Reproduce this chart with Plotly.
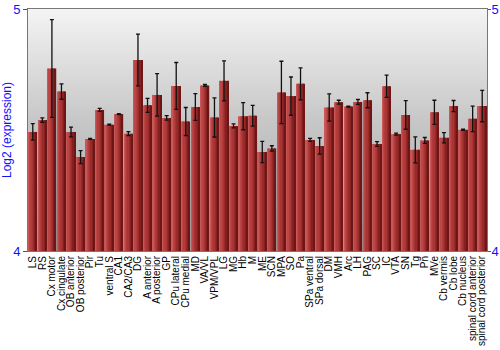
import base64
import plotly.graph_objects as go

categories = ["LS", "RS", "Cx motor", "Cx cingulate", "OB anterior", "OB posterior", "Pir", "Tu",
              "ventral S", "CA1", "CA2/CA3", "DG", "A anterior", "A posterior", "GP", "CPu lateral",
              "CPu medial", "MD", "VA/VL", "VPM/VPL", "LG", "MG", "Hb", "M", "ME", "SCN", "MPA", "SO",
              "Pa", "SPa ventral", "SPa dorsal", "DM", "VMH", "Arc", "LH", "PAG", "SC", "IC", "VTA",
              "SN", "Tg", "Pn", "MVe", "Cb vermis", "Cb lobe", "Cb nucleus", "spinal cord anterior",
              "spinal cord posterior"]

values = [4.492, 4.541, 4.754, 4.659, 4.492, 4.388, 4.463, 4.583,
          4.522, 4.566, 4.485, 4.789, 4.602, 4.645, 4.550, 4.682,
          4.535, 4.595, 4.684, 4.552, 4.703, 4.517, 4.557, 4.559, 4.409, 4.424, 4.655, 4.640,
          4.691, 4.459, 4.434, 4.593, 4.615, 4.597, 4.616, 4.623, 4.442, 4.681, 4.483,
          4.562, 4.418, 4.457, 4.573, 4.468, 4.599, 4.501, 4.546,
          4.599]

errors = [0.034, 0.009, 0.202, 0.032, 0.020, 0.027, 0.002, 0.006,
          0.002, 0.002, 0.008, 0.107, 0.029, 0.088, 0.009, 0.097,
          0.058, 0.055, 0.004, 0.081, 0.083, 0.008, 0.056, 0.043, 0.044, 0.011, 0.129, 0.079,
          0.066, 0.006, 0.034, 0.056, 0.008, 0.002, 0.010, 0.031, 0.010, 0.046, 0.004,
          0.059, 0.054, 0.012, 0.050, 0.021, 0.023, 0.002, 0.053,
          0.065]

y_ticks = [4, 5]
y_range = [4, 5]

idx = list(range(len(categories)))
x_lo, x_hi = -0.5, len(categories) - 0.5

# background vertical gradient as an SVG image
svg = ('<svg xmlns="http://www.w3.org/2000/svg" width="100" height="100" preserveAspectRatio="none">'
       '<defs><linearGradient id="g" x1="0" y1="0" x2="0" y2="1">'
       '<stop offset="0" stop-color="#f4f4f4"/><stop offset="0.45" stop-color="#c8c8c8"/>'
       '<stop offset="1" stop-color="#a4a4a4"/></linearGradient></defs>'
       '<rect width="100" height="100" fill="url(#g)"/></svg>')
bg_src = "data:image/svg+xml;base64," + base64.b64encode(svg.encode()).decode()

fig = go.Figure()

# bars drawn as horizontal-gradient stripes
stripe_colors = ["#c85858", "#bb4646", "#b23c3c", "#a83434", "#982a2a", "#842020", "#6e1616"]
full_w = 0.9
n = len(stripe_colors)
sw = full_w / n
for i, c in enumerate(stripe_colors):
    fig.add_trace(go.Bar(
        x=idx, y=[v - y_range[0] for v in values], base=y_range[0],
        width=sw * 1.02, offset=-full_w / 2 + i * sw,
        marker=dict(color=c, line=dict(width=0)),
        showlegend=False, hoverinfo="skip",
    ))

# error bars
fig.add_trace(go.Scatter(
    x=idx, y=values, mode="markers", marker=dict(size=0.1, color="rgba(0,0,0,0)"),
    error_y=dict(type="data", array=errors, color="#111111", thickness=1.3, width=2),
    showlegend=False, hoverinfo="skip",
))

# invisible trace for right axis
fig.add_trace(go.Scatter(x=[0], y=[y_range[0]], yaxis="y2", mode="markers",
                         marker=dict(opacity=0), showlegend=False, hoverinfo="skip"))

axis_blue = "#1010ff"
fig.update_layout(
    width=500, height=350,
    margin=dict(l=28, r=13, t=9, b=99),
    paper_bgcolor="white", plot_bgcolor="white",
    barmode="overlay",
    images=[dict(source=bg_src, xref="x domain", yref="y domain", x=0, y=1,
                 sizex=1, sizey=1, xanchor="left", yanchor="top",
                 sizing="stretch", layer="below")],
    font=dict(family="Liberation Sans, Arial, sans-serif", color="black"),
    xaxis=dict(range=[x_lo, x_hi], tickmode="array", tickvals=idx, ticktext=categories,
               tickangle=-90, tickfont=dict(size=10, color="black"), ticks="",
               showgrid=False, zeroline=False, showline=True, linecolor="#777777",
               mirror=True, linewidth=1, ticklabelstandoff=0, automargin=False),
    yaxis=dict(range=y_range, tickvals=y_ticks, ticks="outside", ticklen=4,
               tickcolor="#555555", tickfont=dict(size=13, color=axis_blue),
               showgrid=False, zeroline=False, showline=True, linecolor="#777777",
               linewidth=1, automargin=False,
               title=dict(text="Log2 (expression)", font=dict(size=12, color=axis_blue),
                          standoff=4)),
    yaxis2=dict(range=y_range, tickvals=y_ticks, ticks="outside", ticklen=3,
                tickcolor="#555555", tickfont=dict(size=13, color=axis_blue),
                overlaying="y", side="right", showgrid=False, zeroline=False,
                showline=True, linecolor="#777777", linewidth=1, automargin=False,
                ticklabelstandoff=-2),
)

fig.write_html("out.html")
